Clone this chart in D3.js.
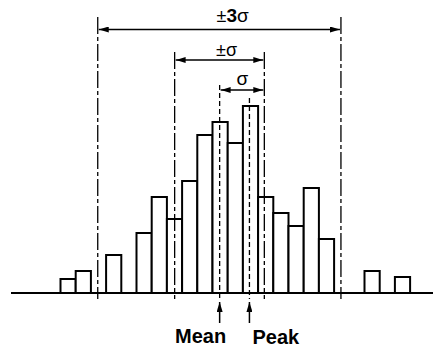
<!DOCTYPE html>
<html>
<head>
<meta charset="utf-8">
<script src="https://cdn.jsdelivr.net/npm/d3@7"></script>
<style>
  body { margin: 0; background: #fff; }
  svg { display: block; font-family: "Liberation Sans", Arial, sans-serif; }
</style>
</head>
<body>
<div id="wrapper"></div>
<script>
// histogram bins (index) and bar heights
const bins = d3.range(23)
const counts = [14, 22, 0, 38, 0, 60, 96, 74, 112, 158, 171, 150, 187, 96, 80, 67, 105, 54, 0, 0, 22, 0, 16]

// marker positions in bin units
const meanPos = 10.47
const peakPos = 12.43
const sigmaLines = [7.51, 13.41]
const sigma3Lines = [2.45, 18.45]

const width = 433
const height = 348
const baseY = 293

const svg = d3.select("#wrapper")
    .append("svg")
    .attr("width", width)
    .attr("height", height)

const defs = svg.append("defs")
defs.append("marker")
    .attr("id", "arrow")
    .attr("viewBox", "0 0 10 6")
    .attr("refX", 10)
    .attr("refY", 3)
    .attr("markerWidth", 10)
    .attr("markerHeight", 6)
    .attr("markerUnits", "userSpaceOnUse")
    .attr("orient", "auto-start-reverse")
    .append("path")
    .attr("d", "M0,0L10,3L0,6Z")
    .attr("fill", "#000")

// scales
const xScale = d3.scaleBand()
    .domain(bins)
    .range([60.5, 410.1])
    .padding(0)
const xPos = d3.scaleLinear()
    .domain([0, bins.length])
    .range([60.5, 410.1])
const yScale = d3.scaleLinear()
    .domain([0, 190])
    .range([baseY, baseY - 190])

// bars
svg.append("g").selectAll("rect")
    .data(bins.filter(i => counts[i] > 0))
    .join("rect")
    .attr("x", d => xScale(d))
    .attr("y", d => yScale(counts[d]))
    .attr("width", xScale.bandwidth())
    .attr("height", d => baseY - yScale(counts[d]))
    .attr("fill", "#fff")
    .attr("stroke", "#000")
    .attr("stroke-width", 2)

// baseline
svg.append("line")
    .attr("x1", 11).attr("x2", width)
    .attr("y1", baseY).attr("y2", baseY)
    .attr("stroke", "#000")
    .attr("stroke-width", 2)

// vertical guide lines
const guides = [
    { x: sigma3Lines[0], top: 17, dash: "17,3,4,3" },
    { x: sigma3Lines[1], top: 17, dash: "17,3,4,3" },
    { x: sigmaLines[0], top: 52, dash: "17,3,4,3" },
    { x: sigmaLines[1], top: 52, dash: "17,3,4,3" },
    { x: meanPos, top: 85, dash: "5,3" },
    { x: peakPos, top: 98, dash: "5,3" },
]
svg.append("g").selectAll("line")
    .data(guides)
    .join("line")
    .attr("x1", d => xPos(d.x)).attr("x2", d => xPos(d.x))
    .attr("y1", d => d.top).attr("y2", 299)
    .attr("stroke", "#000")
    .attr("stroke-width", 1.3)
    .attr("stroke-dasharray", d => d.dash)

// double arrows
const spans = [
    { a: sigma3Lines[0], b: sigma3Lines[1], y: 29.5 },
    { a: sigmaLines[0], b: sigmaLines[1], y: 60 },
    { a: meanPos, b: sigmaLines[1], y: 90 },
]
svg.append("g").selectAll("line")
    .data(spans)
    .join("line")
    .attr("x1", d => xPos(d.a) + 1).attr("x2", d => xPos(d.b) - 1)
    .attr("y1", d => d.y).attr("y2", d => d.y)
    .attr("stroke", "#000")
    .attr("stroke-width", 1.5)
    .attr("marker-start", "url(#arrow)")
    .attr("marker-end", "url(#arrow)")

// labels over arrows
const t3 = svg.append("text")
    .attr("x", 232.7).attr("y", 21.5)
    .attr("text-anchor", "middle")
    .attr("font-size", 18)
t3.append("tspan").text("±")
t3.append("tspan").attr("font-weight", "bold").attr("font-size", 19).text("3")
t3.append("tspan").attr("font-size", 19).text("σ")

svg.append("text")
    .attr("x", 226.5).attr("y", 55.5)
    .attr("text-anchor", "middle")
    .attr("font-size", 18)
    .text("±σ")

svg.append("text")
    .attr("x", 242.3).attr("y", 85)
    .attr("text-anchor", "middle")
    .attr("font-size", 19)
    .text("σ")

// Mean / Peak pointers
const pointers = [
    { x: meanPos, label: "Mean", tx: 175, ty: 342.5 },
    { x: peakPos, label: "Peak", tx: 252.5, ty: 343.5 },
]
svg.append("g").selectAll("line")
    .data(pointers)
    .join("line")
    .attr("x1", d => xPos(d.x)).attr("x2", d => xPos(d.x))
    .attr("y1", 323).attr("y2", 302)
    .attr("stroke", "#000")
    .attr("stroke-width", 1.5)
    .attr("marker-end", "url(#arrow)")

svg.append("g").selectAll("text")
    .data(pointers)
    .join("text")
    .attr("x", d => d.tx).attr("y", d => d.ty)
    .attr("font-size", 20)
    .attr("font-weight", "bold")
    .text(d => d.label)
</script>
</body>
</html>
